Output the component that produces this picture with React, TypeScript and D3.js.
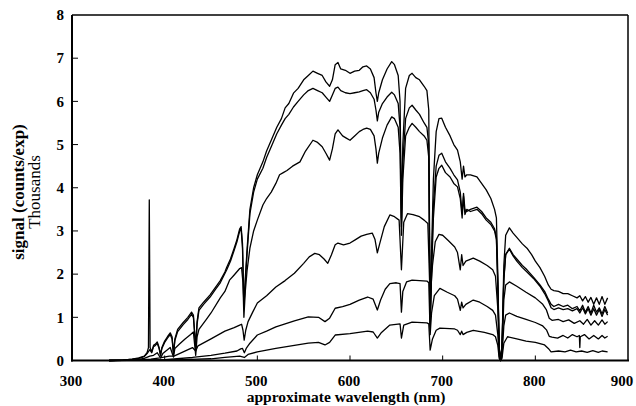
import React from "react";
import * as d3 from "d3";

type P = [number, number];

const xTicks = [300, 400, 500, 600, 700, 800, 900];
const yTicks = [0, 1, 2, 3, 4, 5, 6, 7, 8];

const seriesA: P[] = [[340,0],[355,0.01],[365,0.03],[372,0.06],[378,0.1],[381,0.18],[382.5,0.3],[383.4,3.72],[384.3,0.3],[386,0.2],[388,0.35],[390,0.38],[392,0.43],[394,0.3],[395.5,0.13],[397,0.3],[400,0.45],[403,0.55],[406,0.64],[408,0.55],[409.5,0.15],[411,0.5],[414,0.72],[420,0.88],[425,1.0],[429,1.12],[431,1.05],[433.5,0.32],[435,0.9],[437,1.22],[442,1.35],[449,1.52],[455,1.7],[460,1.85],[465,2.05],[467,2.16],[471,2.35],[475,2.6],[478,2.8],[481,3.05],[482.5,3.1],[484,2.7],[485.5,1.24],[487,1.9],[489,2.6],[492,3.5],[496,4.0],[500,4.3],[506,4.6],[510,4.85],[515,5.1],[521,5.4],[526,5.6],[530,5.85],[534,5.95],[539,6.19],[544,6.3],[550,6.5],[555,6.6],[560,6.7],[565,6.65],[570,6.6],[574,6.45],[578,6.35],[581,6.5],[584,6.85],[587,6.9],[590,6.75],[595,6.72],[600,6.65],[605,6.7],[610,6.72],[614,6.8],[618,6.82],[622,6.75],[626,6.55],[628,6.2],[629.5,6.0],[631,6.2],[635,6.5],[640,6.75],[645,6.92],[648,6.85],[652,6.6],[654,6.0],[655.5,3.3],[657,5.0],[660,6.3],[664,6.6],[667,6.65],[671,6.55],[675,6.5],[680,6.35],[683,6.25],[685,5.8],[686.5,0.9],[688,2.5],[690,4.2],[693,5.3],[696,5.6],[699,5.61],[703,5.4],[708,5.2],[712,5.0],[716,4.87],[719,4.6],[721,4.2],[722.5,4.5],[724,4.25],[726,4.3],[730,4.3],[737,4.25],[742,4.1],[747,3.95],[752,3.75],[756,3.5],[758,3.3],[759.5,2.0],[761,0.3],[762.5,0.0],[764,0.3],[766,2.2],[768,2.9],[772,3.07],[776,2.95],[780,2.85],[786,2.7],[791,2.6],[796,2.45],[800,2.3],[805,2.15],[810,1.95],[814,1.75],[817,1.65],[820,1.62],[825,1.6],[830,1.55],[835,1.55],[840,1.5],[845,1.45],[848,1.5],[851,1.38],[854,1.48],[857,1.35],[860,1.46],[863,1.3],[866,1.45],[869,1.3],[872,1.48],[875,1.3],[878,1.45]];

const seriesB: P[] = [[340,0],[355,0.01],[365,0.03],[372,0.05],[378,0.09],[381,0.16],[384,0.25],[386,0.18],[388,0.32],[390,0.35],[392,0.4],[394,0.28],[395.5,0.12],[397,0.28],[400,0.42],[403,0.52],[406,0.6],[408,0.5],[409.5,0.14],[411,0.46],[414,0.67],[420,0.83],[425,0.95],[429,1.07],[431,1.0],[433.5,0.3],[435,0.85],[437,1.16],[442,1.3],[449,1.47],[455,1.65],[460,1.8],[467,2.1],[471,2.3],[475,2.55],[478,2.75],[481,3.0],[482.5,3.05],[484,2.6],[485.5,1.2],[487,1.8],[489,2.5],[492,3.4],[496,3.9],[500,4.2],[506,4.45],[510,4.7],[515,4.95],[521,5.25],[526,5.45],[530,5.6],[534,5.7],[539,5.87],[544,6.0],[550,6.15],[555,6.25],[560,6.3],[565,6.25],[570,6.2],[574,6.1],[578,6.0],[581,6.15],[584,6.3],[587,6.33],[590,6.25],[595,6.2],[600,6.18],[605,6.2],[610,6.22],[614,6.25],[618,6.27],[622,6.2],[626,6.05],[628,5.8],[629.5,5.55],[631,5.75],[635,5.95],[640,6.1],[645,6.21],[648,6.15],[652,5.95],[654,5.4],[655.5,3.1],[657,4.6],[660,5.6],[664,5.85],[667,5.91],[671,5.8],[675,5.7],[680,5.5],[683,5.4],[685,5.0],[686.5,0.8],[688,2.2],[690,3.6],[693,4.5],[696,4.75],[699,4.8],[703,4.6],[708,4.45],[712,4.3],[716,4.18],[719,3.9],[721,3.4],[722.5,3.87],[724,3.5],[726,3.45],[730,3.5],[737,3.55],[742,3.45],[747,3.3],[752,3.2],[756,3.05],[758,2.85],[759.5,1.8],[761,0.3],[762.5,0.0],[764,0.3],[766,1.9],[768,2.45],[772,2.6],[776,2.45],[780,2.35],[786,2.2],[791,2.1],[798,1.93],[805,1.75],[810,1.6],[814,1.42],[817,1.3],[820,1.25],[825,1.3],[830,1.25],[835,1.28],[840,1.2],[845,1.25],[848,1.15],[851,1.28],[854,1.12],[857,1.25],[860,1.1],[863,1.28],[866,1.12],[869,1.22],[872,1.08],[875,1.25],[878,1.1]];

const seriesC: P[] = [[340,0],[360,0.01],[370,0.02],[378,0.05],[384,0.1],[388,0.12],[392,0.18],[395.5,0.06],[398,0.16],[403,0.25],[406,0.3],[409.5,0.08],[411,0.28],[416,0.38],[422,0.5],[428,0.6],[431,0.66],[433.5,0.12],[435,0.55],[437,0.72],[445,0.95],[450,1.1],[460,1.45],[465,1.6],[470,1.86],[475,1.98],[481,2.13],[483,2.15],[484.5,1.8],[485.5,1.0],[487,1.6],[489,2.1],[492,2.6],[496,3.0],[500,3.25],[506,3.6],[510,3.75],[515,3.9],[520,4.1],[524,4.3],[528,4.35],[532,4.4],[538,4.5],[546,4.6],[552,4.85],[560,5.1],[565,5.05],[570,4.95],[574,4.8],[578,4.64],[581,4.9],[584,5.25],[587,5.34],[592,5.2],[596,5.15],[600,5.1],[605,5.2],[610,5.3],[614,5.35],[618,5.38],[622,5.35],[626,5.2],[628,4.9],[629.5,4.57],[631,4.8],[635,5.15],[640,5.45],[645,5.64],[648,5.6],[652,5.4],[654,4.8],[655.5,2.9],[657,4.2],[660,5.2],[664,5.4],[667,5.49],[671,5.4],[675,5.3],[680,5.2],[683,5.1],[685,4.7],[686.5,0.7],[688,2.0],[690,3.3],[693,4.25],[696,4.45],[699,4.52],[703,4.35],[708,4.25],[712,4.1],[716,4.02],[719,3.75],[721,3.3],[722.5,3.8],[724,3.38],[726,3.5],[730,3.45],[737,3.5],[742,3.4],[747,3.25],[752,3.15],[756,3.0],[758,2.8],[759.5,1.7],[761,0.3],[762.5,0.0],[764,0.3],[766,1.85],[768,2.45],[772,2.58],[776,2.42],[780,2.3],[786,2.15],[791,2.05],[798,1.9],[805,1.72],[810,1.55],[814,1.38],[817,1.22],[820,1.18],[825,1.22],[830,1.18],[835,1.2],[840,1.15],[845,1.2],[848,1.1],[851,1.22],[854,1.08],[857,1.2],[860,1.05],[863,1.2],[866,1.05],[869,1.18],[872,1.02],[875,1.18],[878,1.05]];

const seriesD: P[] = [[340,0],[370,0.01],[385,0.03],[395,0.06],[405,0.1],[410,0.1],[420,0.2],[430,0.3],[433.5,0.22],[436,0.34],[450,0.5],[465,0.68],[475,0.76],[481,0.82],[483,0.84],[484.5,0.7],[485.8,0.47],[487.5,0.7],[490,0.9],[495,1.12],[500,1.33],[510,1.5],[520,1.7],[530,1.85],[540,2.02],[550,2.25],[556,2.4],[562,2.48],[567,2.45],[572,2.35],[576,2.25],[580,2.45],[584,2.68],[587,2.72],[593,2.68],[600,2.72],[606,2.8],[612,2.88],[618,2.92],[624,2.95],[627,2.8],[629.5,2.49],[632,2.7],[637,3.1],[643,3.37],[648,3.33],[653,3.25],[655.5,2.1],[658,3.2],[662,3.4],[668,3.38],[675,3.33],[680,3.25],[684,3.17],[686.5,1.4],[689,2.2],[692,2.75],[696,2.92],[700,2.9],[706,2.78],[713,2.63],[716,2.5],[719,2.1],[720.5,2.45],[722,2.2],[725,2.3],[733,2.37],[740,2.3],[748,2.2],[754,2.1],[757,1.95],[759.5,1.2],[761,0.2],[762.5,0.0],[764,0.2],[766,1.4],[768,1.75],[772,1.82],[780,1.72],[790,1.58],[800,1.45],[808,1.3],[812,1.17],[815,0.98],[818,0.93],[825,0.95],[830,0.9],[836,0.94],[842,0.86],[848,0.92],[852,0.84],[856,0.95],[860,0.82],[864,0.92],[868,0.82],[872,0.94],[875,0.84],[878,0.9]];

const seriesE: P[] = [[340,0],[400,0.02],[430,0.07],[450,0.12],[465,0.17],[478,0.22],[482,0.27],[484,0.28],[486,0.18],[488,0.28],[492,0.4],[500,0.59],[510,0.68],[520,0.78],[530,0.85],[540,0.92],[555,1.01],[566,1.0],[573,0.9],[578,0.98],[584,1.21],[592,1.25],[600,1.3],[610,1.4],[619,1.47],[625,1.42],[629.5,1.17],[633,1.4],[638,1.65],[643,1.78],[650,1.8],[654,1.78],[655.5,1.12],[657,1.6],[661,1.82],[667,1.86],[675,1.85],[683,1.84],[685,1.8],[686.5,0.6],[688,1.1],[691,1.5],[697,1.67],[705,1.58],[713,1.5],[716,1.42],[719,1.16],[720.5,1.35],[722,1.22],[725,1.3],[733,1.4],[740,1.35],[748,1.25],[754,1.16],[757,1.05],[759.5,0.6],[761,0.1],[762.5,0.0],[764,0.1],[766,0.8],[768,1.05],[772,1.1],[780,1.02],[790,0.95],[800,0.88],[808,0.8],[812,0.71],[815,0.56],[818,0.54],[824,0.52],[830,0.58],[835,0.52],[840,0.6],[845,0.55],[847.5,0.58],[848,0.3],[848.5,0.55],[853,0.6],[858,0.5],[863,0.58],[868,0.5],[872,0.58],[875,0.52],[878,0.56]];

const seriesF: P[] = [[340,0],[420,0.02],[450,0.04],[465,0.07],[481,0.1],[486,0.07],[490,0.14],[500,0.2],[520,0.28],[540,0.35],[555,0.4],[566,0.42],[573,0.36],[578,0.42],[584,0.59],[600,0.62],[619,0.68],[625,0.66],[629.5,0.52],[634,0.65],[643,0.82],[654,0.85],[655.5,0.52],[658,0.82],[667,0.89],[683,0.87],[685,0.85],[686.5,0.24],[689,0.5],[693,0.7],[697,0.75],[713,0.73],[716,0.7],[719,0.6],[720.5,0.68],[722,0.6],[726,0.65],[733,0.7],[745,0.65],[754,0.6],[757,0.55],[759.5,0.35],[761,0.05],[762.5,0],[764,0.05],[766,0.4],[770,0.55],[780,0.5],[790,0.45],[800,0.42],[810,0.36],[814,0.28],[817,0.2],[825,0.22],[832,0.2],[838,0.24],[844,0.2],[850,0.22],[856,0.19],[862,0.23],[868,0.19],[872,0.22],[878,0.2]];

const allSeries = [seriesA, seriesB, seriesC, seriesD, seriesE, seriesF];

const W = 636, H = 406;
const left = 72, right = 628, top = 15, bottom = 360.5;
const serif = "'Liberation Serif', 'Times New Roman', serif";

export default function App() {
  const x = d3.scaleLinear().domain([300, 900]).range([left, right]);
  const y = d3.scaleLinear().domain([0, 8]).range([bottom, top]);
  const line = d3.line<P>().x(d => x(d[0])).y(d => y(d[1]));

  return (
    <svg width={W} height={H} style={{ position: "absolute", left: 0, top: 0, background: "#fff" }}
      fontFamily={serif}>
      <rect x={0} y={0} width={W} height={H} fill="#fff" />
      <g fill="none" stroke="#000" strokeWidth={1.3} strokeLinejoin="round">
        {allSeries.map((s, i) => <path key={i} d={line(s) || ""} />)}
      </g>
      <line x1={left} x2={left} y1={top} y2={bottom + 1} stroke="#000" strokeWidth={2} />
      <line x1={left - 1} x2={right + 1} y1={bottom} y2={bottom} stroke="#000" strokeWidth={2} />
      <line x1={left} x2={right} y1={top} y2={top} stroke="#000" strokeWidth={1.5} />
      <line x1={right} x2={right} y1={top} y2={bottom} stroke="#000" strokeWidth={1.5} />
      {yTicks.map(t => (
        <g key={"y" + t}>
          {t > 0 && t < 8 && <line x1={left} x2={left + 6} y1={y(t)} y2={y(t)} stroke="#000" strokeWidth={1} />}
          <text x={64} y={y(t)} dy="0.35em" textAnchor="end" fontSize={15} fontWeight="bold">{t}</text>
        </g>
      ))}
      {xTicks.map(t => (
        <g key={"x" + t}>
          {t > 300 && t < 900 && <line x1={x(t)} x2={x(t)} y1={bottom} y2={bottom - 5} stroke="#000" strokeWidth={1} />}
          <text x={Math.min(x(t) - 1, W - 14)} y={386} textAnchor="middle" fontSize={15} fontWeight="bold">{t}</text>
        </g>
      ))}
      <text x={346} y={402} textAnchor="middle" fontSize={15.5} fontWeight="bold">approximate wavelength (nm)</text>
      <text transform={`translate(24,192) rotate(-90)`} textAnchor="middle" fontSize={17} fontWeight="bold">signal (counts/exp)</text>
      <text transform={`translate(40,192) rotate(-90)`} textAnchor="middle" fontSize={17}>Thousands</text>
    </svg>
  );
}
